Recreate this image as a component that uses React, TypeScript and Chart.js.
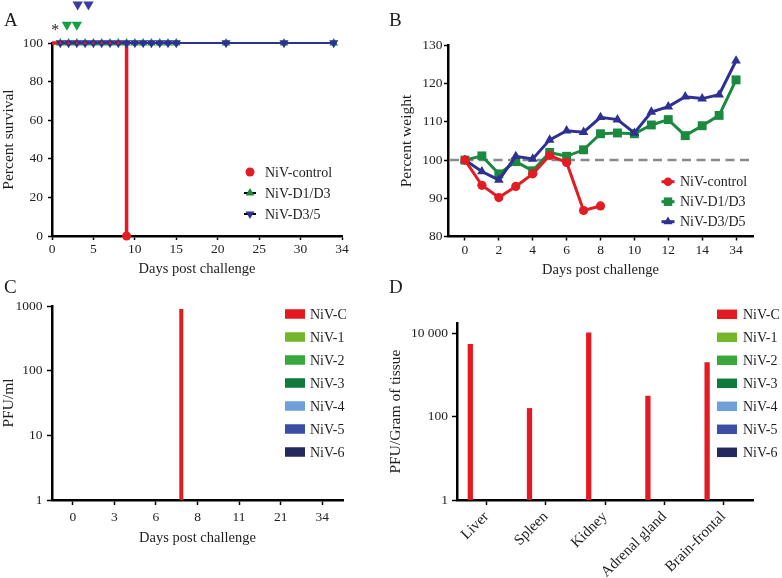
import React, { useEffect, useRef } from 'react';
import { Chart, registerables } from 'chart.js';

Chart.register(...registerables);

const SERIF = '"Liberation Serif", "Times New Roman", Times, serif';
const INK = '#1e1e1e';
const RED = '#e31b23';
const GREEN = '#1b8a3e';
const BLUE = '#2f3192';
const DOSE_GREEN = '#16a045';
const DOSE_BLUE = '#3a3d9e';
const DASH_GREY = '#8a8a8a';

// ---------- Panel A: survival ----------
const survivalTickValues = [0, 5, 10, 15, 20, 25, 30, 35];
const survivalTickLabels = ['0', '5', '10', '15', '20', '25', '30', '34'];
const survivalDays = [1, 2, 3, 4, 5, 6, 7, 8, 9, 10, 11, 12, 13, 14, 15, 21, 28, 34];
const survivalD1D3 = [100, 100, 100, 100, 100, 100, 100, 100, 100, 100, 100, 100, 100, 100, 100, 100, 100, 100];
const survivalD3D5 = [100, 100, 100, 100, 100, 100, 100, 100, 100, 100, 100, 100, 100, 100, 100, 100, 100, 100];
const controlSurvivalDays = [0, 1, 2, 3, 4, 5, 6, 7, 8, 9, 9];
const controlSurvival = [100, 100, 100, 100, 100, 100, 100, 100, 100, 100, 0];
const controlMarkDays = [1, 2, 3, 4, 5, 6, 7, 8];
const controlMarkLevels = [100, 100, 100, 100, 100, 100, 100, 100];
const doseStarDay = 0.4;
const doseStarLevel = 108;
const doseD1D3Days = [1.8, 3.0];
const doseD1D3Levels = [109.5, 109.5];
const doseD3D5Days = [3.1, 4.4];
const doseD3D5Levels = [120, 120];

// ---------- Panel B: weight ----------
const weightDayLabels = ['0', '1', '2', '3', '4', '5', '6', '7', '8', '9', '10', '11', '12', '13', '14', '15', '34'];
const weightControl = [100, 93.4, 90.2, 93.1, 96.4, 101.2, 99.4, 86.8, 88.0];
const weightD1D3 = [100, 101.1, 96.4, 99.6, 97.2, 102, 101, 102.7, 106.9, 107.1, 106.9, 109.2, 110.6, 106.4, 109, 111.7, 121];
const weightD3D5 = [100, 97, 94.8, 101, 100.3, 105.3, 107.7, 107.3, 111.2, 110.6, 107.1, 112.6, 114, 116.6, 116.1, 117.1, 126];
const baselineWeight = 100;

// ---------- Panel C: viremia ----------
const viremiaDays = ['0', '3', '6', '8', '11', '21', '34'];
const viremiaNiVC = [0, 0, 0, 900, 0, 0, 0];
const viremiaNiV1 = [0, 0, 0, 0, 0, 0, 0];
const viremiaNiV2 = [0, 0, 0, 0, 0, 0, 0];
const viremiaNiV3 = [0, 0, 0, 0, 0, 0, 0];
const viremiaNiV4 = [0, 0, 0, 0, 0, 0, 0];
const viremiaNiV5 = [0, 0, 0, 0, 0, 0, 0];
const viremiaNiV6 = [0, 0, 0, 0, 0, 0, 0];
const viremiaTickValues = [1, 10, 100, 1000];
const viremiaTickLabels = ['1', '10', '100', '1000'];

// ---------- Panel D: tissue titres ----------
const tissues = ['Liver', 'Spleen', 'Kidney', 'Adrenal gland', 'Brain-frontal'];
const tissueNiVC = [5600, 162, 10700, 321, 2040];
const tissueNiV1 = [0, 0, 0, 0, 0];
const tissueNiV2 = [0, 0, 0, 0, 0];
const tissueNiV3 = [0, 0, 0, 0, 0];
const tissueNiV4 = [0, 0, 0, 0, 0];
const tissueNiV5 = [0, 0, 0, 0, 0];
const tissueNiV6 = [0, 0, 0, 0, 0];
const tissueTickValues = [1, 100, 10000];
const tissueTickLabels = ['1', '100', '10 000'];

const strainNames = ['NiV-C', 'NiV-1', 'NiV-2', 'NiV-3', 'NiV-4', 'NiV-5', 'NiV-6'];
const strainColors = ['#e41a22', '#74b72d', '#38a83c', '#0f7a3b', '#6e9fd8', '#3a4ea3', '#25275f'];

type Marker = 'circle' | 'triangle' | 'triangleDown' | 'rect' | 'box';
interface LegendItem { text: string; color: string; marker: Marker; line?: string; r?: number }
interface LegendCfg {
  x: number; y: number; gap: number; textX: number; fontSize: number;
  r?: number; lineHalf?: number; lineWidth?: number; boxW?: number; boxH?: number;
  items: LegendItem[];
}

function drawMarker(ctx: CanvasRenderingContext2D, kind: Marker, x: number, y: number, r: number, fill: string) {
  ctx.fillStyle = fill;
  ctx.beginPath();
  if (kind === 'circle') {
    ctx.arc(x, y, r, 0, Math.PI * 2);
  } else if (kind === 'triangle') {
    ctx.moveTo(x, y - r);
    ctx.lineTo(x + r * 0.866, y + r * 0.5);
    ctx.lineTo(x - r * 0.866, y + r * 0.5);
    ctx.closePath();
  } else if (kind === 'triangleDown') {
    ctx.moveTo(x, y + r);
    ctx.lineTo(x + r * 0.866, y - r * 0.5);
    ctx.lineTo(x - r * 0.866, y - r * 0.5);
    ctx.closePath();
  } else if (kind === 'rect') {
    const s = r * 0.7071;
    ctx.rect(x - s, y - s, 2 * s, 2 * s);
  }
  ctx.fill();
}

function makeLegendPlugin(cfg: LegendCfg) {
  return {
    id: 'panelLegend',
    afterDraw(chart: any) {
      const ctx: CanvasRenderingContext2D = chart.ctx;
      ctx.save();
      ctx.font = `${cfg.fontSize}px ${SERIF}`;
      ctx.textBaseline = 'middle';
      ctx.textAlign = 'left';
      cfg.items.forEach((it, i) => {
        const y = cfg.y + i * cfg.gap;
        if (it.marker === 'box') {
          const w = cfg.boxW || 20;
          const h = cfg.boxH || 10;
          ctx.fillStyle = it.color;
          ctx.fillRect(cfg.x - w / 2, y - h / 2, w, h);
        } else {
          if (it.line) {
            ctx.strokeStyle = it.line;
            ctx.lineWidth = cfg.lineWidth || 2;
            ctx.beginPath();
            ctx.moveTo(cfg.x - (cfg.lineHalf || 6), y);
            ctx.lineTo(cfg.x + (cfg.lineHalf || 6), y);
            ctx.stroke();
          }
          drawMarker(ctx, it.marker, cfg.x, y, it.r ?? cfg.r ?? 4.5, it.color);
        }
        ctx.fillStyle = INK;
        ctx.fillText(it.text, cfg.textX, y + 1);
      });
      ctx.restore();
    },
  };
}

// dose annotations above panel A (drawn through the panel's scales)
const dosePlugin = {
  id: 'doseMarks',
  afterDatasetsDraw(chart: any) {
    const { ctx, scales } = chart;
    const sx = scales.x;
    const sy = scales.y;
    ctx.save();
    doseD1D3Days.forEach((d, i) => {
      drawMarker(ctx, 'triangleDown', sx.getPixelForValue(d), sy.getPixelForValue(doseD1D3Levels[i]), 6, DOSE_GREEN);
    });
    doseD3D5Days.forEach((d, i) => {
      drawMarker(ctx, 'triangleDown', sx.getPixelForValue(d), sy.getPixelForValue(doseD3D5Levels[i]), 6, DOSE_BLUE);
    });
    ctx.font = `16px ${SERIF}`;
    ctx.fillStyle = INK;
    ctx.textAlign = 'center';
    ctx.textBaseline = 'middle';
    ctx.fillText('*', sx.getPixelForValue(doseStarDay), sy.getPixelForValue(doseStarLevel) + 3);
    ctx.restore();
  },
};

const baselinePlugin = {
  id: 'baseline',
  beforeDatasetsDraw(chart: any) {
    const { ctx, scales, chartArea } = chart;
    const y = scales.y.getPixelForValue(baselineWeight);
    ctx.save();
    ctx.strokeStyle = DASH_GREY;
    ctx.lineWidth = 2.5;
    ctx.setLineDash([9, 5.5]);
    ctx.beginPath();
    ctx.moveTo(chartArea.left + 2, y);
    ctx.lineTo(chartArea.right, y);
    ctx.stroke();
    ctx.restore();
  },
};

function pts(xs: number[], ys: number[]) {
  return xs.map((x, i) => ({ x, y: ys[i] }));
}

function axis(opts: {
  title: string; titleSize?: number; titleLH?: number; titlePadTop?: number; titlePadBottom?: number;
  tickSize?: number; tickPad?: number; tickLen?: number;
}) {
  return {
    border: { display: true, color: '#000', width: 2.5 },
    grid: {
      display: true, drawOnChartArea: false, drawTicks: true,
      tickLength: opts.tickLen ?? 4, tickWidth: 1.5, tickColor: '#000',
    },
    ticks: {
      color: INK, font: { family: SERIF, size: opts.tickSize ?? 13.5 },
      autoSkip: false, maxRotation: 0, minRotation: 0, padding: opts.tickPad ?? 4,
    },
    title: {
      display: true, text: opts.title, color: INK,
      font: { family: SERIF, size: opts.titleSize ?? 14.5, lineHeight: opts.titleLH ?? 1.2 },
      padding: { top: opts.titlePadTop ?? 0, bottom: opts.titlePadBottom ?? 0 },
    },
  };
}

const baseOptions = {
  animation: false,
  responsive: false,
  events: [],
  plugins: { legend: { display: false }, tooltip: { enabled: false }, title: { display: false } },
};

function configA(): any {
  const xa: any = axis({ title: 'Days post challenge', tickPad: 1 });
  const ya: any = axis({ title: 'Percent survival', titleSize: 15.5, titleLH: 1.1, titlePadTop: 0, tickPad: 5 });
  return {
    type: 'scatter',
    data: {
      datasets: [
        { data: pts(controlMarkDays, controlMarkLevels), pointStyle: 'triangle', pointRadius: 2, backgroundColor: RED, pointBorderWidth: 0, showLine: false, clip: false },
        { data: pts(survivalDays, survivalD3D5), showLine: true, borderColor: BLUE, borderWidth: 2, pointStyle: 'triangle', pointRotation: 180, pointRadius: 5.3, backgroundColor: BLUE, pointBorderWidth: 0, clip: false },
        { data: pts(survivalDays, survivalD1D3), showLine: true, borderColor: GREEN, borderWidth: 2, pointStyle: 'triangle', pointRadius: 5, backgroundColor: GREEN, pointBorderWidth: 0, clip: false },
        {
          data: pts(controlSurvivalDays, controlSurvival), showLine: true, borderColor: RED, borderWidth: 3.5,
          pointStyle: 'circle', pointRadius: (c: any) => (c.dataIndex === controlSurvival.length - 1 ? 4.5 : 0),
          backgroundColor: RED, pointBorderWidth: 0, clip: false,
        },
      ],
    },
    options: {
      ...baseOptions,
      layout: { padding: { left: 0, top: 43, right: 48, bottom: 2 } },
      scales: {
        x: {
          ...xa, type: 'linear', min: 0, max: 35,
          afterBuildTicks: (s: any) => { s.ticks = survivalTickValues.map((v) => ({ value: v })); },
          ticks: { ...xa.ticks, callback: (_v: any, i: number) => survivalTickLabels[i] },
          afterFit: (s: any) => { s.height = 42; },
        },
        y: {
          ...ya, type: 'linear', min: 0, max: 100,
          ticks: { ...ya.ticks, stepSize: 20 },
          afterFit: (s: any) => { s.width = 52; },
        },
      },
    },
    plugins: [
      dosePlugin,
      makeLegendPlugin({
        x: 250, y: 172, gap: 21, textX: 265, fontSize: 14, lineHalf: 6, lineWidth: 2, r: 5,
        items: [
          { text: 'NiV-control', color: RED, marker: 'circle', r: 4.5 },
          { text: 'NiV-D1/D3', color: GREEN, marker: 'triangle', line: '#000' },
          { text: 'NiV-D3/5', color: BLUE, marker: 'triangleDown', line: '#000' },
        ],
      }),
    ],
  };
}

function configB(): any {
  const xa: any = axis({ title: 'Days post challenge', tickPad: 1.5 });
  const ya: any = axis({ title: 'Percent weight', titleSize: 15.5, titleLH: 1.1, titlePadTop: 8, tickPad: 1.5 });
  const idx = (arr: number[]) => arr.map((y, i) => ({ x: i, y }));
  return {
    type: 'line',
    data: {
      datasets: [
        { data: idx(weightControl), borderColor: RED, backgroundColor: RED, borderWidth: 3, pointStyle: 'circle', pointRadius: 4.6, pointBorderWidth: 0, clip: false },
        { data: idx(weightD3D5), borderColor: BLUE, backgroundColor: BLUE, borderWidth: 3, pointStyle: 'triangle', pointRadius: 5.6, pointBorderWidth: 0, clip: false },
        { data: idx(weightD1D3), borderColor: GREEN, backgroundColor: GREEN, borderWidth: 3, pointStyle: 'rect', pointRadius: 6.3, pointBorderWidth: 0, clip: false },
      ],
    },
    options: {
      ...baseOptions,
      layout: { padding: { left: 0, top: 45.5, right: 29, bottom: 1.5 } },
      scales: {
        x: {
          ...xa, type: 'linear', min: -1, max: weightDayLabels.length,
          afterBuildTicks: (s: any) => {
            s.ticks = weightDayLabels.map((_l, i) => i).filter((i) => i % 2 === 0).map((v) => ({ value: v }));
          },
          ticks: { ...xa.ticks, callback: (v: any) => weightDayLabels[v] },
          afterFit: (s: any) => { s.height = 42; },
        },
        y: {
          ...ya, type: 'linear', min: 80, max: 130,
          ticks: { ...ya.ticks, stepSize: 10 },
          afterFit: (s: any) => { s.width = 58; },
        },
      },
    },
    plugins: [
      baselinePlugin,
      makeLegendPlugin({
        x: 278, y: 181.7, gap: 20, textX: 290, fontSize: 14, lineHalf: 6.5, lineWidth: 3, r: 5,
        items: [
          { text: 'NiV-control', color: RED, marker: 'circle', line: RED, r: 4.3 },
          { text: 'NiV-D1/D3', color: GREEN, marker: 'rect', line: GREEN, r: 6 },
          { text: 'NiV-D3/D5', color: BLUE, marker: 'triangle', line: BLUE, r: 5.2 },
        ],
      }),
    ],
  };
}

function configC(): any {
  const xa: any = axis({ title: 'Days post challenge', tickPad: 4.5, tickLen: 5 });
  const ya: any = axis({ title: 'PFU/ml', titleSize: 15.5, titleLH: 1.1, titlePadTop: 0, tickPad: 4.5, tickLen: 5 });
  const series = [viremiaNiVC, viremiaNiV1, viremiaNiV2, viremiaNiV3, viremiaNiV4, viremiaNiV5, viremiaNiV6];
  return {
    type: 'bar',
    data: {
      labels: viremiaDays,
      datasets: series.map((d, i) => ({
        label: strainNames[i], data: d, backgroundColor: strainColors[i], borderWidth: 0,
        categoryPercentage: 0.91, barPercentage: 0.74,
      })),
    },
    options: {
      ...baseOptions,
      layout: { padding: { left: 0, top: 26, right: 47, bottom: 31 } },
      scales: {
        x: {
          ...xa, type: 'category', offset: true,
          grid: { ...xa.grid, offset: false },
          afterFit: (s: any) => { s.height = 47; },
        },
        y: {
          ...ya, type: 'logarithmic', min: 1, max: 1000,
          afterBuildTicks: (s: any) => { s.ticks = viremiaTickValues.map((v) => ({ value: v })); },
          ticks: { ...ya.ticks, callback: (_v: any, i: number) => viremiaTickLabels[i] },
          afterFit: (s: any) => { s.width = 52; },
        },
      },
    },
    plugins: [
      makeLegendPlugin({
        x: 295, y: 34, gap: 23, textX: 310, fontSize: 14, boxW: 20, boxH: 9.5,
        items: strainNames.map((n, i) => ({ text: n, color: strainColors[i], marker: 'box' as Marker })),
      }),
    ],
  };
}

function configD(): any {
  const xa: any = axis({ title: '', tickPad: 3, tickLen: 5, tickSize: 15 });
  const ya: any = axis({ title: 'PFU/Gram of tissue', titleSize: 15.5, titleLH: 1.1, titlePadTop: 1.5, tickPad: 4, tickLen: 5 });
  const series = [tissueNiVC, tissueNiV1, tissueNiV2, tissueNiV3, tissueNiV4, tissueNiV5, tissueNiV6];
  return {
    type: 'bar',
    data: {
      labels: tissues,
      datasets: series.map((d, i) => ({
        label: strainNames[i], data: d, backgroundColor: strainColors[i], borderWidth: 0,
        categoryPercentage: 0.642, barPercentage: 0.97,
      })),
    },
    options: {
      ...baseOptions,
      layout: { padding: { left: 0, top: 43, right: 29, bottom: 0 } },
      scales: {
        x: {
          ...xa, type: 'category', offset: true,
          title: { display: false },
          grid: { ...xa.grid, offset: false },
          ticks: { ...xa.ticks, minRotation: 45, maxRotation: 45 },
          afterFit: (s: any) => { s.height = 78; },
        },
        y: {
          ...ya, type: 'logarithmic', min: 1, max: 18000,
          afterBuildTicks: (s: any) => { s.ticks = tissueTickValues.map((v) => ({ value: v })); },
          ticks: { ...ya.ticks, callback: (_v: any, i: number) => tissueTickLabels[i] },
          afterFit: (s: any) => { s.width = 71; },
        },
      },
    },
    plugins: [
      makeLegendPlugin({
        x: 341, y: 34.3, gap: 23, textX: 357, fontSize: 14, boxW: 20, boxH: 9.5,
        items: strainNames.map((n, i) => ({ text: n, color: strainColors[i], marker: 'box' as Marker })),
      }),
    ],
  };
}

function Panel({ make, left, top, width, height }: { make: () => any; left: number; top: number; width: number; height: number }) {
  const ref = useRef<HTMLCanvasElement>(null);
  useEffect(() => {
    if (!ref.current) return;
    const chart = new Chart(ref.current, make());
    return () => chart.destroy();
  }, []);
  return (
    <canvas
      ref={ref}
      width={width}
      height={height}
      style={{ position: 'absolute', left, top, width, height, display: 'block' }}
    />
  );
}

const letterStyle = (left: number, top: number): React.CSSProperties => ({
  position: 'absolute', left, top, fontFamily: SERIF, fontSize: 19, lineHeight: 1, color: INK,
});

export default function App() {
  return (
    <div style={{ position: 'absolute', left: 0, top: 0, width: 782, height: 578, background: '#fff', overflow: 'hidden' }}>
      <Panel make={configA} left={0} top={0} width={390} height={280} />
      <Panel make={configB} left={390} top={0} width={392} height={280} />
      <Panel make={configC} left={0} top={280} width={390} height={298} />
      <Panel make={configD} left={386} top={280} width={396} height={298} />
      <div style={letterStyle(4, 10)}>A</div>
      <div style={letterStyle(389, 10)}>B</div>
      <div style={letterStyle(4, 277)}>C</div>
      <div style={letterStyle(389, 277)}>D</div>
    </div>
  );
}
